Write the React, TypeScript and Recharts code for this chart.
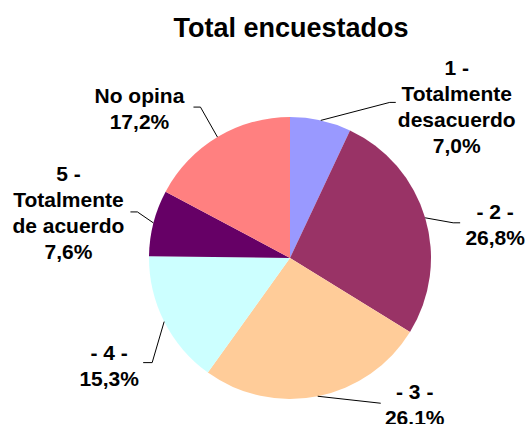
import { PieChart, Pie, Cell } from "recharts";

const categories = [
  "1 - Totalmente desacuerdo",
  "- 2 -",
  "- 3 -",
  "- 4 -",
  "5 - Totalmente de acuerdo",
  "No opina",
];
const percentages = [7.0, 26.8, 26.1, 15.3, 7.6, 17.2];
const nameLines = [
  ["1 -", "Totalmente", "desacuerdo"],
  ["- 2 -"],
  ["- 3 -"],
  ["- 4 -"],
  ["5 -", "Totalmente", "de acuerdo"],
  ["No opina"],
];
const valueLabels = ["7,0%", "26,8%", "26.1%", "15,3%", "7,6%", "17,2%"];
const colors = ["#9999FF", "#993366", "#FFCC99", "#CCFFFF", "#660066", "#FF8080"];

// leader line elbow / tail and text block centre, relative to the slice edge point
const labelLayout = [
  { ex: 69, ey: -18, tail: 6, tx: 136, ty: -14 },
  { ex: 28, ey: 5, tail: 7, tx: 70, ty: 7 },
  { ex: 63, ey: 7, tail: 0, tx: 97, ty: 8 },
  { ex: -12, ey: 41, tail: -9, tx: -55, ty: 44 },
  { ex: -16, ey: -11, tail: -7, tx: -85, ty: -10 },
  { ex: -17, ey: -30, tail: -7, tx: -78, ty: -29 },
];

const data = categories.map((name, i) => ({ name, value: percentages[i] }));

const FONT = "'Liberation Sans', Arial, sans-serif";
const LINE_H = 26;
const RAD = Math.PI / 180;

const renderLabel = (props: any) => {
  const { cx, cy, midAngle, outerRadius, index } = props;
  const px = cx + outerRadius * Math.cos(-midAngle * RAD);
  const py = cy + outerRadius * Math.sin(-midAngle * RAD);
  const l = labelLayout[index];
  const lines = [...nameLines[index], valueLabels[index]];
  const tx = px + l.tx;
  const top = py + l.ty - ((lines.length - 1) * LINE_H) / 2;
  return (
    <g key={`lbl-${index}`}>
      <polyline
        points={`${px},${py} ${px + l.ex},${py + l.ey} ${px + l.ex + l.tail},${py + l.ey}`}
        fill="none"
        stroke="#000"
        strokeWidth={1}
      />
      <text
        x={tx}
        y={top}
        textAnchor="middle"
        fontFamily={FONT}
        fontWeight="bold"
        fontSize={21}
        fill="#000"
      >
        {lines.map((t, j) => (
          <tspan key={j} x={tx} y={top + j * LINE_H} dominantBaseline="central">
            {t}
          </tspan>
        ))}
      </text>
    </g>
  );
};

export default function App() {
  return (
    <div
      style={{
        position: "absolute",
        left: 0,
        top: 0,
        width: 527,
        height: 424,
        background: "#fff",
      }}
    >
      <div
        style={{
          position: "absolute",
          left: 0,
          top: 12,
          width: 582,
          textAlign: "center",
          fontFamily: FONT,
          fontWeight: "bold",
          fontSize: 27,
          lineHeight: "32px",
          color: "#000",
        }}
      >
        Total encuestados
      </div>
      <PieChart
        width={527}
        height={424}
        margin={{ top: 0, right: 0, bottom: 0, left: 0 }}
        style={{ position: "absolute", left: 0, top: 0 }}
      >
        <Pie
          data={data}
          dataKey="value"
          nameKey="name"
          cx={290}
          cy={258}
          outerRadius={141}
          startAngle={90}
          endAngle={-270}
          stroke="none"
          label={renderLabel}
          labelLine={false}
          isAnimationActive={false}
        >
          {data.map((d, i) => (
            <Cell key={d.name} fill={colors[i]} />
          ))}
        </Pie>
      </PieChart>
    </div>
  );
}
